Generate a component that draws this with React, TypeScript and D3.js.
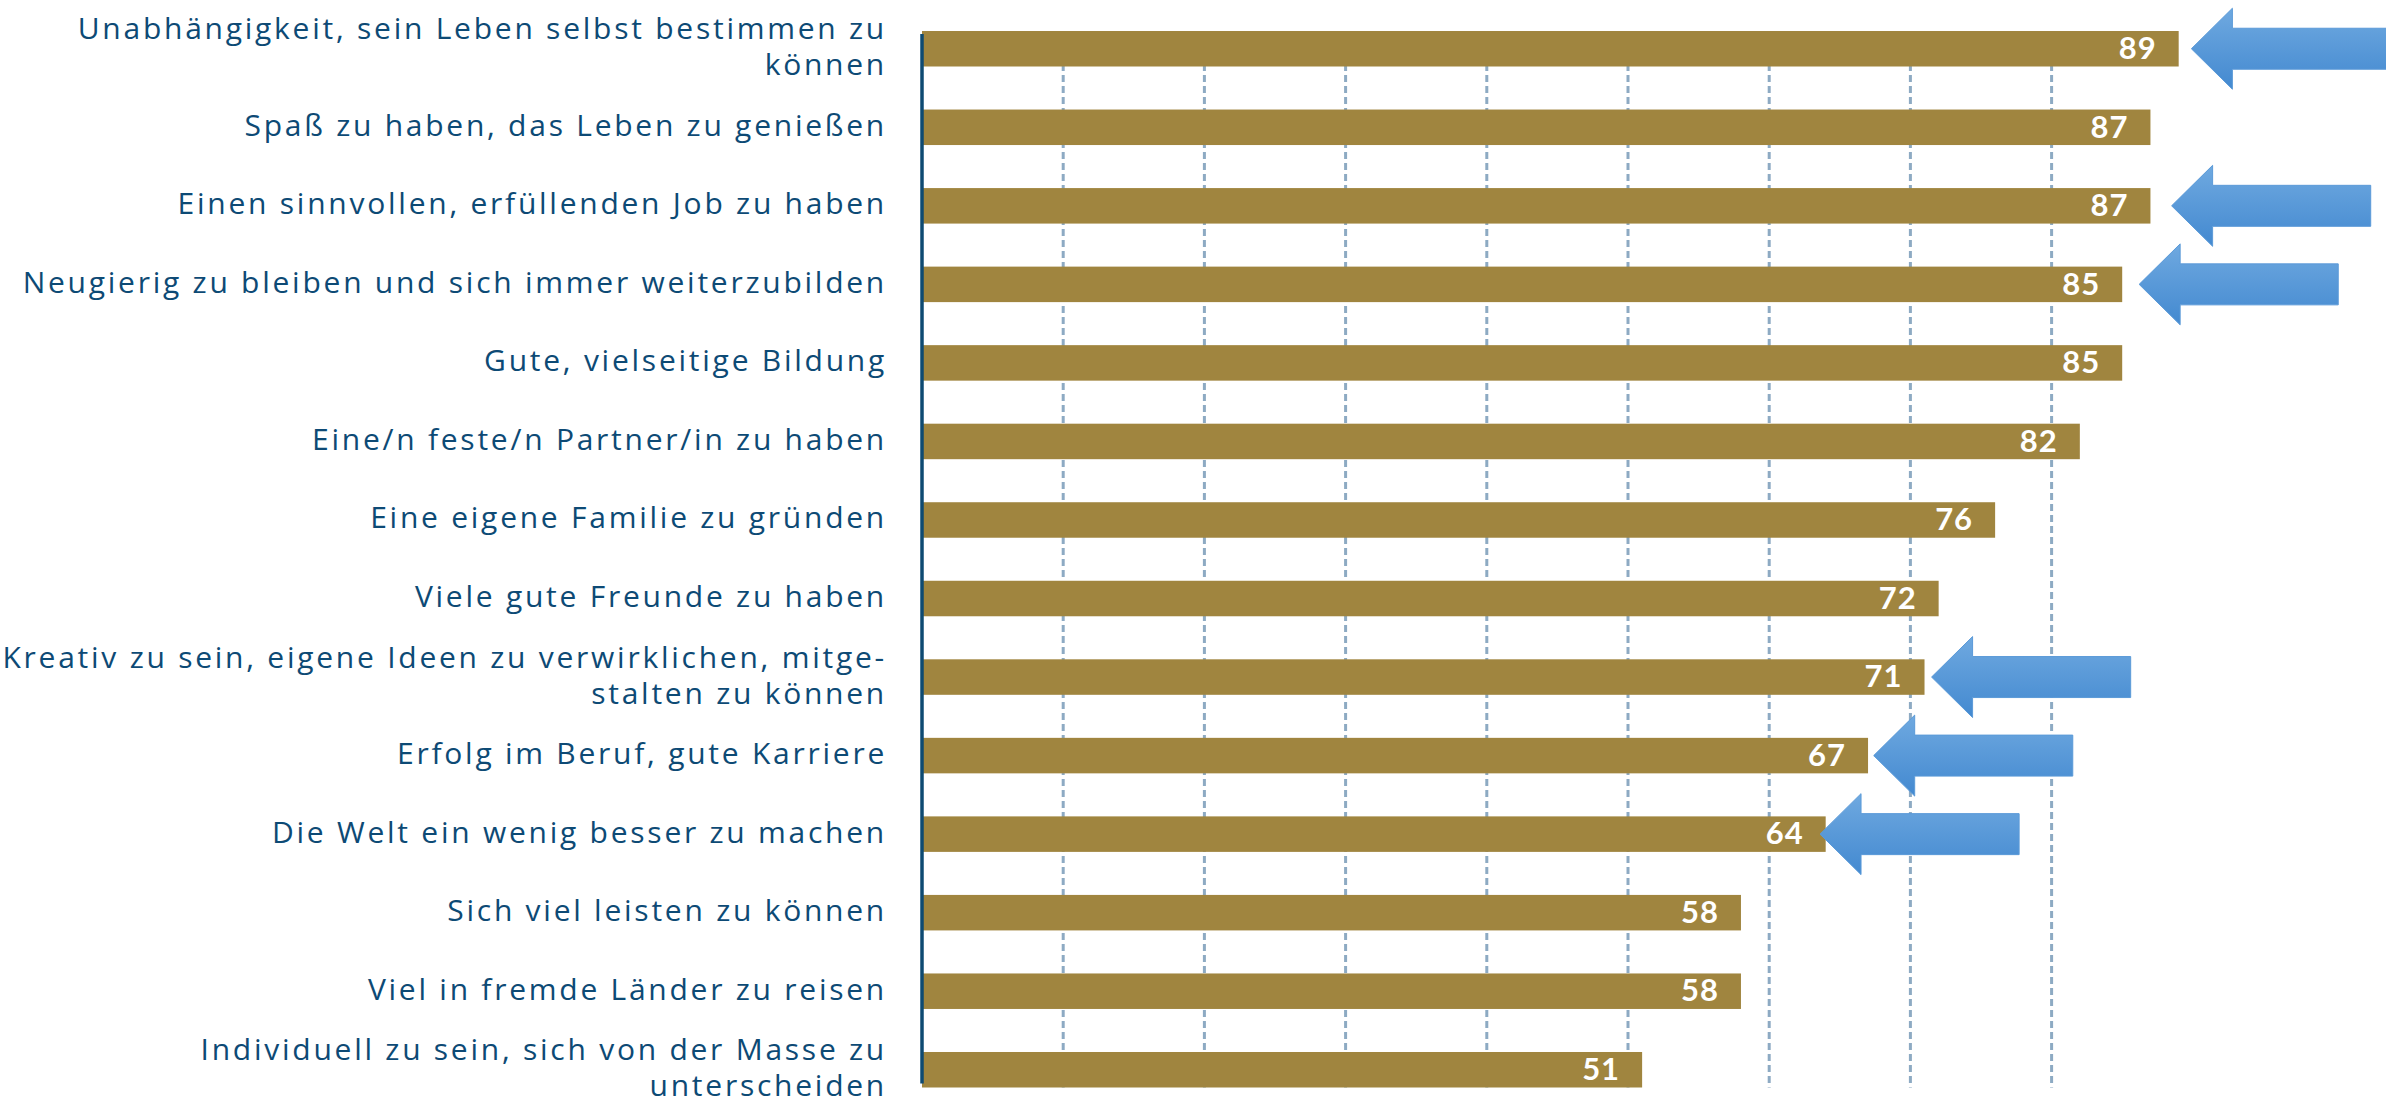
import React, { useEffect } from "react";
import * as d3 from "d3";

const categories = [
  "Unabhängigkeit, sein Leben selbst bestimmen zu|können",
  "Spaß zu haben, das Leben zu genießen",
  "Einen sinnvollen, erfüllenden Job zu haben",
  "Neugierig zu bleiben und sich immer weiterzubilden",
  "Gute, vielseitige Bildung",
  "Eine/n feste/n Partner/in zu haben",
  "Eine eigene Familie zu gründen",
  "Viele gute Freunde zu haben",
  "Kreativ zu sein, eigene Ideen zu verwirklichen, mitge-|stalten zu können",
  "Erfolg im Beruf, gute Karriere",
  "Die Welt ein wenig besser zu machen",
  "Sich viel leisten zu können",
  "Viel in fremde Länder zu reisen",
  "Individuell zu sein, sich von der Masse zu|unterscheiden",
];
const values = [89, 87, 87, 85, 85, 82, 76, 72, 71, 67, 64, 58, 58, 51];
const gridTicks = [10, 20, 30, 40, 50, 60, 70, 80];
// arrow annotations: row index and value at arrow tip
const arrowRows = [0, 2, 3, 8, 9, 10];
const arrowTips = [89.9, 88.5, 86.2, 71.5, 67.4, 63.6];

const W = 2386;
const H = 1100;
const X0 = 922;
const PXU = 14.12;

export default function App() {
  useEffect(() => {
    document.body.style.margin = "0";
  }, []);

  const x = d3.scaleLinear().domain([0, 90]).range([X0, X0 + 90 * PXU]);
  const y = d3
    .scaleBand<number>()
    .domain(d3.range(categories.length))
    .range([31, 1087.5])
    .paddingInner(0.548)
    .paddingOuter(0);
  const bw = y.bandwidth();
  const top = y(0)!;
  const bottom = y(categories.length - 1)! + bw;

  const arrowLen = 14.1 * PXU;
  const headLen = 41;
  const headHalf = 40.5;
  const shaftHalf = 20.5;
  const arrowPath = (tipX: number, cy: number) => {
    const p = d3.path();
    p.moveTo(tipX, cy);
    p.lineTo(tipX + headLen, cy - headHalf);
    p.lineTo(tipX + headLen, cy - shaftHalf);
    p.lineTo(tipX + arrowLen, cy - shaftHalf);
    p.lineTo(tipX + arrowLen, cy + shaftHalf);
    p.lineTo(tipX + headLen, cy + shaftHalf);
    p.lineTo(tipX + headLen, cy + headHalf);
    p.closePath();
    return p.toString();
  };

  return (
    <svg
      width={W}
      height={H}
      style={{ position: "absolute", left: 0, top: 0, background: "#fff" }}
    >
      <defs>
        <linearGradient id="arrowGrad" x1="0" y1="0" x2="0" y2="1">
          <stop offset="0" stopColor="#6FA9E0" />
          <stop offset="1" stopColor="#4389D0" />
        </linearGradient>
      </defs>
      {gridTicks.map((t) => (
        <line
          key={t}
          x1={x(t)}
          x2={x(t)}
          y1={top}
          y2={bottom}
          stroke="#8DAAC3"
          strokeWidth={3}
          strokeDasharray="7 4"
        />
      ))}
      {values.map((v, i) => (
        <rect
          key={i}
          x={x(0)}
          y={y(i)}
          width={x(v) - x(0)}
          height={bw}
          fill="#A0853F"
        />
      ))}
      <line
        x1={X0}
        x2={X0}
        y1={top + 3}
        y2={bottom - 4}
        stroke="#0E4A72"
        strokeWidth={3.5}
      />
      {values.map((v, i) => (
        <text
          key={i}
          x={x(v) - 22}
          y={y(i)! + bw / 2}
          dy="0.33em"
          textAnchor="end"
          fill="#fff"
          fontFamily="Lato, 'Open Sans', sans-serif"
          fontWeight={700}
          fontSize={31}
          letterSpacing={1}
        >
          {v}
        </text>
      ))}
      {categories.map((c, i) => {
        const lines = c.split("|");
        const cy = y(i)! + bw / 2;
        const lh = 36;
        return (
          <text
            key={i}
            textAnchor="end"
            fill="#0D4A75"
            fontFamily="'Open Sans', sans-serif"
            fontSize={30}
            letterSpacing={2.75}
          >
            {lines.map((l, j) => (
              <tspan
                key={j}
                x={887}
                y={cy + (j - (lines.length - 1) / 2) * lh - 2}
                dy="0.35em"
              >
                {l}
              </tspan>
            ))}
          </text>
        );
      })}
      {arrowRows.map((r, k) => (
        <path
          key={r}
          d={arrowPath(x(arrowTips[k]), y(r)! + bw / 2)}
          fill="url(#arrowGrad)"
          stroke="#5B9AD8"
          strokeWidth={1}
        />
      ))}
    </svg>
  );
}
